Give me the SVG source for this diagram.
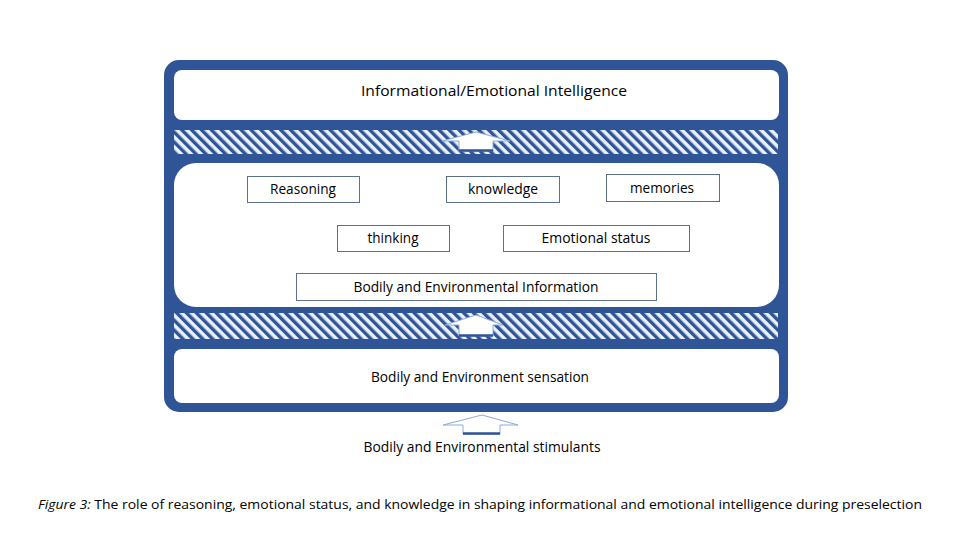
<svg xmlns="http://www.w3.org/2000/svg" width="960" height="540" viewBox="0 0 960 540">
<defs>
<pattern id="hatch" patternUnits="userSpaceOnUse" width="7" height="7" patternTransform="rotate(-45)">
<rect width="7" height="7" fill="#eaf0fa"/>
<rect x="0" y="0" width="3.4" height="7" fill="#2F5597"/>
</pattern>
<style>
.t{font-family:"Open Sans","Noto Sans",sans-serif;font-size:14px;fill:#000;text-anchor:middle}
.box{fill:#fff;stroke:#5b6f8f;stroke-width:1}
.arrow{fill:#fff;stroke:#8eaadb;stroke-width:1}
.base{stroke:#2F5597;stroke-width:2.5}
.cap{font-family:"Open Sans","Noto Sans",sans-serif;font-size:13px;fill:#000}
</style>
</defs>
<rect width="960" height="540" fill="#fff"/>
<g id="frame">
<rect x="164" y="60" width="624" height="352" rx="15" fill="#2F5597"/>
<rect x="174" y="130" width="604" height="24" fill="url(#hatch)"/>
<rect x="174" y="313" width="604" height="26" fill="url(#hatch)"/>
</g>
<g id="top">
<rect x="174" y="70" width="605" height="50" rx="8" fill="#fff"/>
<text class="t" x="494" y="96" textLength="266" lengthAdjust="spacingAndGlyphs">Informational/Emotional Intelligence</text>
</g>
<g id="middle">
<rect x="174" y="163" width="605" height="144" rx="22" fill="#fff"/>
</g>
<g id="bottom">
<rect x="174" y="349" width="605" height="54" rx="8" fill="#fff"/>
<text class="t" x="480" y="382" textLength="218" lengthAdjust="spacingAndGlyphs">Bodily and Environment sensation</text>
</g>
<g id="reasoning"><rect class="box" x="247.5" y="176.5" width="112" height="26"/><text class="t" x="303" y="194" textLength="66" lengthAdjust="spacingAndGlyphs">Reasoning</text></g>
<g id="knowledge"><rect class="box" x="446.5" y="176.5" width="113" height="26"/><text class="t" x="503" y="194" textLength="70" lengthAdjust="spacingAndGlyphs">knowledge</text></g>
<g id="memories"><rect class="box" x="606.5" y="174.5" width="113" height="27"/><text class="t" x="662" y="193" textLength="64" lengthAdjust="spacingAndGlyphs">memories</text></g>
<g id="thinking"><rect class="box" x="337.5" y="225.5" width="112" height="26"/><text class="t" x="393" y="243" textLength="51" lengthAdjust="spacingAndGlyphs">thinking</text></g>
<g id="emotional"><rect class="box" x="503.5" y="225.5" width="186" height="26"/><text class="t" x="596" y="243" textLength="109" lengthAdjust="spacingAndGlyphs">Emotional status</text></g>
<g id="info"><rect class="box" x="296.5" y="273.5" width="360" height="27"/><text class="t" x="476" y="292" textLength="245" lengthAdjust="spacingAndGlyphs">Bodily and Environmental Information</text></g>
<g id="connectors">
<path class="arrow" d="M459,151 L459,141 L442,141 L476,132 L510,141 L493,141 L493,151 Z"/>
<line class="base" x1="459" y1="150.5" x2="493" y2="150.5"/>
<path class="arrow" d="M459,336 L459,325 L445,325 L476,315 L503,325 L493,325 L493,336 Z"/>
<line class="base" x1="459" y1="335.5" x2="493" y2="335.5"/>
<path class="arrow" d="M463,434 L463,425 L443,425 L482,415 L518,425 L500,425 L500,434 Z"/>
<line class="base" x1="463" y1="433.5" x2="500" y2="433.5"/>
</g>
<g id="stimulants">
<text class="t" x="482" y="452" textLength="237" lengthAdjust="spacingAndGlyphs">Bodily and Environmental stimulants</text>
</g>
<text class="cap" x="38" y="509" textLength="884" lengthAdjust="spacingAndGlyphs"><tspan font-style="italic">Figure 3:</tspan> The role of reasoning, emotional status, and knowledge in shaping informational and emotional intelligence during preselection</text>
</svg>
